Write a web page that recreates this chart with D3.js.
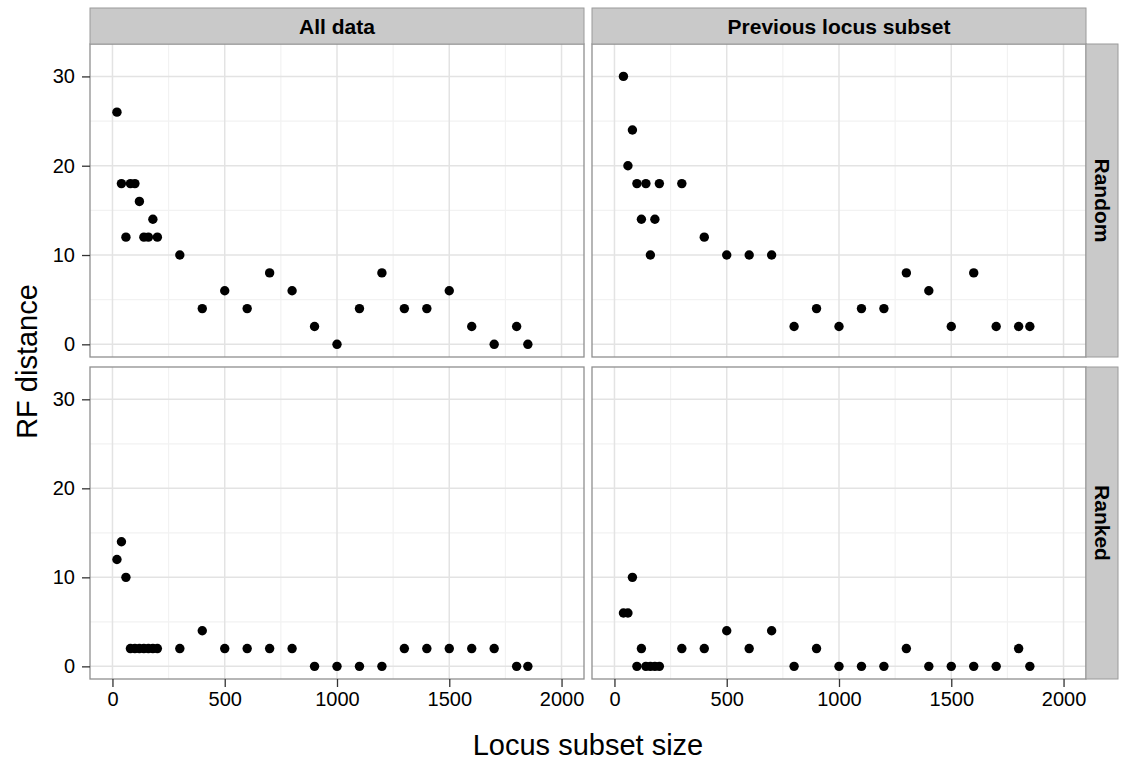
<!DOCTYPE html>
<html><head><meta charset="utf-8">
<script src="https://cdn.jsdelivr.net/npm/d3@7"></script>
<style>body{margin:0;background:#fff}</style>
</head><body>
<svg id="chart" width="1123" height="760"></svg>
<script>
const columns = ["All data", "Previous locus subset"];
const rows = ["Random", "Ranked"];
const sizesAll = [20,40,60,80,100,120,140,160,180,200,300,400,500,600,700,800,900,1000,1100,1200,1300,1400,1500,1600,1700,1800,1850];
const sizesPrevious = [40,60,80,100,120,140,160,180,200,300,400,500,600,700,800,900,1000,1100,1200,1300,1400,1500,1600,1700,1800,1850];
const rfAllRandom = [26,18,12,18,18,16,12,12,14,12,10,4,6,4,8,6,2,0,4,8,4,4,6,2,0,2,0];
const rfAllRanked = [12,14,10,2,2,2,2,2,2,2,2,4,2,2,2,2,0,0,0,0,2,2,2,2,2,0,0];
const rfPrevRandom = [30,20,24,18,14,18,10,14,18,18,12,10,10,10,2,4,2,4,4,8,6,2,8,2,2,2];
const rfPrevRanked = [6,6,10,0,2,0,0,0,0,2,2,4,2,4,0,2,0,0,0,2,0,0,0,0,2,0];
const xTicks = [0,500,1000,1500,2000];
const xMinor = [250,750,1250,1750];
const yTicks = [0,10,20,30];
const yMinor = [5,15,25];
const xTitle = "Locus subset size";
const yTitle = "RF distance";

const panels = [
  {col:0,row:0,xs:sizesAll,ys:rfAllRandom},
  {col:1,row:0,xs:sizesPrevious,ys:rfPrevRandom},
  {col:0,row:1,xs:sizesAll,ys:rfAllRanked},
  {col:1,row:1,xs:sizesPrevious,ys:rfPrevRanked}
];

const FONT = "'Liberation Sans', Arial, Helvetica, sans-serif";
const colX = [[90,584],[592,1086]];
const rowY = [[44,357],[367,679]];
const stripTop = 8, stripRight = 1118;

const svg = d3.select("#chart").style("font-family", FONT);

const xScales = colX.map(r => d3.scaleLinear().domain([-100,2100]).range(r));
const yScales = rowY.map(r => d3.scaleLinear().domain([-1.42,33.63]).range([r[1], r[0]]));

panels.forEach(p => {
  const x = xScales[p.col], y = yScales[p.row];
  const [x0,x1] = colX[p.col], [y0,y1] = rowY[p.row];
  const g = svg.append("g");
  g.append("rect").attr("x",x0).attr("y",y0).attr("width",x1-x0).attr("height",y1-y0).attr("fill","#fff");
  g.selectAll(".vmin").data(xMinor).join("line")
    .attr("x1",d=>x(d)).attr("x2",d=>x(d)).attr("y1",y0).attr("y2",y1)
    .attr("stroke","#f2f2f2").attr("stroke-width",1.2);
  g.selectAll(".hmin").data(yMinor).join("line")
    .attr("y1",d=>y(d)).attr("y2",d=>y(d)).attr("x1",x0).attr("x2",x1)
    .attr("stroke","#f2f2f2").attr("stroke-width",1.2);
  g.selectAll(".vmaj").data(xTicks).join("line")
    .attr("x1",d=>x(d)).attr("x2",d=>x(d)).attr("y1",y0).attr("y2",y1)
    .attr("stroke","#e3e3e3").attr("stroke-width",1.5);
  g.selectAll(".hmaj").data(yTicks).join("line")
    .attr("y1",d=>y(d)).attr("y2",d=>y(d)).attr("x1",x0).attr("x2",x1)
    .attr("stroke","#e3e3e3").attr("stroke-width",1.5);
  const pts = p.xs.map((v,i)=>({x:v,y:p.ys[i]}));
  g.selectAll("circle").data(pts).join("circle")
    .attr("cx",d=>x(d.x)).attr("cy",d=>y(d.y)).attr("r",4.7).attr("fill","#000");
  g.append("rect").attr("x",x0).attr("y",y0).attr("width",x1-x0).attr("height",y1-y0)
    .attr("fill","none").attr("stroke","#8f8f8f").attr("stroke-width",1.3);
});

// column strips
columns.forEach((c,i) => {
  const [x0,x1] = colX[i];
  svg.append("rect").attr("x",x0).attr("y",stripTop).attr("width",x1-x0).attr("height",rowY[0][0]-stripTop)
    .attr("fill","#c9c9c9").attr("stroke","#9a9a9a").attr("stroke-width",1);
  svg.append("text").attr("x",(x0+x1)/2).attr("y",(stripTop+rowY[0][0])/2)
    .attr("text-anchor","middle").attr("dominant-baseline","central")
    .attr("font-size","21px").attr("font-weight","bold").attr("fill","#000").text(c);
});
// row strips
rows.forEach((r,i) => {
  const [y0,y1] = rowY[i];
  const x0 = colX[1][1];
  svg.append("rect").attr("x",x0).attr("y",y0).attr("width",stripRight-x0).attr("height",y1-y0)
    .attr("fill","#c9c9c9").attr("stroke","#9a9a9a").attr("stroke-width",1);
  const cx = (x0+stripRight)/2, cy = (y0+y1)/2;
  svg.append("text").attr("transform",`translate(${cx},${cy}) rotate(90)`)
    .attr("text-anchor","middle").attr("dominant-baseline","central")
    .attr("font-size","21px").attr("font-weight","bold").attr("fill","#000").text(r);
});

// axes
function styleAxis(sel){
  sel.select(".domain").remove();
  sel.selectAll(".tick line").attr("stroke","#333").attr("stroke-width",1.3);
  sel.selectAll(".tick text").attr("fill","#000").attr("font-size","20px").attr("font-family",FONT);
}
rowY.forEach((r,i) => {
  svg.append("g").attr("transform",`translate(${colX[0][0]},0)`)
    .call(d3.axisLeft(yScales[i]).tickValues(yTicks).tickSize(8).tickPadding(7).tickFormat(d3.format("d")))
    .call(styleAxis);
});
colX.forEach((c,i) => {
  svg.append("g").attr("transform",`translate(0,${rowY[1][1]})`)
    .call(d3.axisBottom(xScales[i]).tickValues(xTicks).tickSize(8).tickPadding(5).tickFormat(d3.format("d")))
    .call(styleAxis);
});

svg.append("text").attr("x",(colX[0][0]+colX[1][1])/2).attr("y",755)
  .attr("text-anchor","middle").attr("font-size","29px").attr("fill","#000").text(xTitle);
svg.append("text").attr("transform",`translate(37,${(rowY[0][0]+rowY[1][1])/2}) rotate(-90)`)
  .attr("text-anchor","middle").attr("font-size","29px").attr("fill","#000").text(yTitle);
</script>
</body></html>
